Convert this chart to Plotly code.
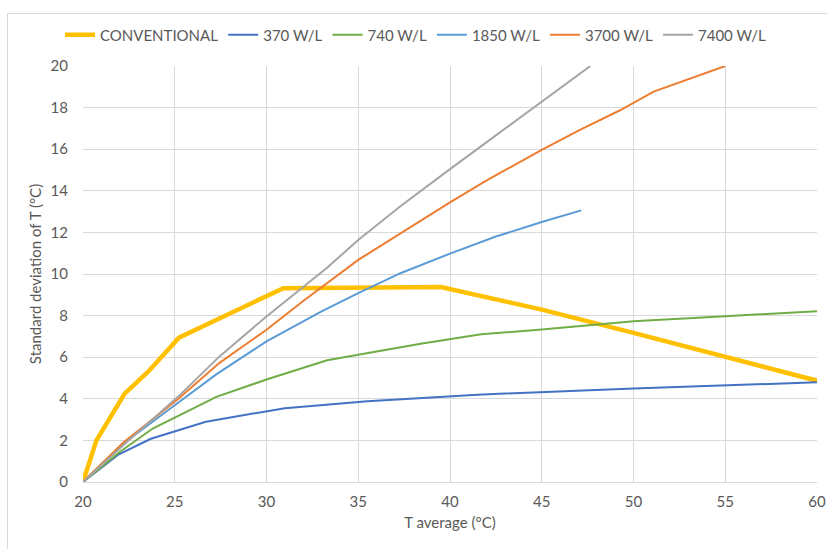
import plotly.graph_objects as go

# ---- data ----
conv_x = [20, 20.73, 22.27, 23.55, 25.23, 30.92, 39.5, 45, 50, 55, 60]
conv_y = [0, 2.0, 4.25, 5.3, 6.94, 9.32, 9.37, 8.29, 7.17, 6.02, 4.87]

w370_x = [20, 21.9, 23.7, 26.7, 31, 35.5, 41.5, 50, 60]
w370_y = [0, 1.3, 2.08, 2.9, 3.55, 3.88, 4.2, 4.5, 4.79]

w740_x = [20, 22.0, 23.8, 27.27, 30, 33.3, 38.4, 41.7, 45, 50, 55, 60]
w740_y = [0, 1.44, 2.57, 4.09, 4.93, 5.85, 6.65, 7.1, 7.33, 7.73, 7.97, 8.21]

w1850_x = [20, 22.2, 25, 27.3, 30, 33, 35, 37.33, 40, 42.5, 45, 47.15]
w1850_y = [0, 1.85, 3.69, 5.2, 6.76, 8.2, 9.08, 10.05, 10.98, 11.8, 12.5, 13.06]

w3700_x = [20, 22.2, 25.2, 27.44, 30, 32, 35, 37.33, 40, 42, 45, 47.08, 49.24, 51.1, 55]
w3700_y = [0, 1.9, 4.0, 5.73, 7.32, 8.7, 10.68, 11.97, 13.44, 14.5, 15.97, 16.93, 17.86, 18.77, 20]

w7400_x = [20, 22.3, 25.3, 27.44, 30, 33.3, 35, 37.33, 40, 45, 47.65]
w7400_y = [0, 1.85, 4.2, 6.04, 7.96, 10.3, 11.64, 13.28, 15.04, 18.29, 20]

names = ["CONVENTIONAL", "370 W/L", "740 W/L", "1850 W/L", "3700 W/L", "7400 W/L"]
colors = ["#FFC000", "#4472C4", "#70AD47", "#5B9BD5", "#ED7D31", "#A5A5A5"]
widths = [4.5, 2, 2, 2, 2, 2]
xs = [conv_x, w370_x, w740_x, w1850_x, w3700_x, w7400_x]
ys = [conv_y, w370_y, w740_y, w1850_y, w3700_y, w7400_y]

x_ticks = [20, 25, 30, 35, 40, 45, 50, 55, 60]
y_ticks = [0, 2, 4, 6, 8, 10, 12, 14, 16, 18, 20]

FONT = "Lato, 'Open Sans', sans-serif"
GREY = "#595959"

fig = go.Figure()
for x, y, n, c, w in zip(xs, ys, names, colors, widths):
    fig.add_trace(go.Scatter(x=x, y=y, name=n, mode="lines",
                             line=dict(color=c, width=w)))

# body margin is removed by the post_script below, so pixels map 1:1
W, H = 827, 549
ml, mr, mt, mb = 83, W - 817, 66, H - 482
pw, ph = W - ml - mr, H - mt - mb

def px_to_paper_x(px):
    return (px - ml) / pw

def px_to_paper_y(py):
    return (H - mb - py) / ph

fig.update_layout(
    width=W, height=H,
    margin=dict(l=ml, r=mr, t=mt, b=mb, autoexpand=False),
    paper_bgcolor="white", plot_bgcolor="white",
    font=dict(family=FONT, size=15, color=GREY),
    legend=dict(orientation="h", x=px_to_paper_x(416), xanchor="center",
                y=px_to_paper_y(35), yanchor="middle",
                font=dict(family=FONT, size=15, color=GREY),
                itemwidth=30, tracegroupgap=0, bgcolor="rgba(0,0,0,0)"),
    xaxis=dict(range=[20, 60], tickvals=x_ticks, showgrid=True,
               gridcolor="#D9D9D9", gridwidth=1, zeroline=False,
               showline=True, linecolor="#D9D9D9", ticks="",
               ticklabelstandoff=6, automargin=False,
               ticklabeloverflow="allow",
               title=dict(text="T average (°C)", font=dict(size=15, color=GREY),
                          standoff=8),
               tickfont=dict(size=15, color=GREY)),
    yaxis=dict(range=[0, 20], tickvals=y_ticks, showgrid=True,
               gridcolor="#D9D9D9", gridwidth=1, zeroline=False,
               showline=False, ticks="",
               ticklabelstandoff=14, automargin=False,
               title=dict(text="Standard deviation of T (°C)",
                          font=dict(size=15, color=GREY), standoff=5),
               tickfont=dict(size=15, color=GREY)),
    shapes=[dict(type="rect", xref="paper", yref="paper",
                 x0=px_to_paper_x(7.5), x1=px_to_paper_x(840),
                 y0=px_to_paper_y(570), y1=px_to_paper_y(13.5),
                 line=dict(color="#D9D9D9", width=1), fillcolor="rgba(0,0,0,0)",
                 layer="below")],
)

fig.write_html("out.html",
               config={"displayModeBar": False},
               post_script="document.body.style.margin='0';"
                           "document.body.style.overflow='hidden';")
